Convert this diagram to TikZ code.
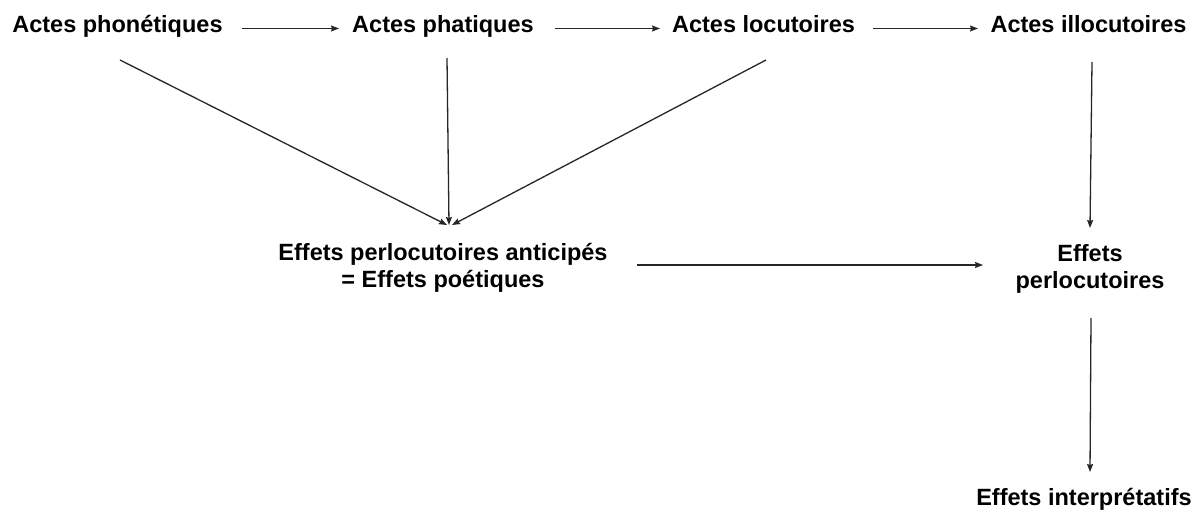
\documentclass[tikz,border=0pt]{standalone}
\usepackage{fontspec}
\setmainfont{Liberation Sans}
\usetikzlibrary{arrows.meta}
\begin{document}
\begin{tikzpicture}[x=1pt,y=-1pt,
  lbl/.style={font=\bfseries\fontsize{23.5}{27}\selectfont, inner sep=0pt, anchor=base, align=center},
  conn/.style={draw=black!85, line width=1.3pt, -{Stealth[length=8pt,width=6pt,inset=1pt]}}]
\useasboundingbox (0,0) rectangle (1194,511);
% nodes (base anchor = baseline of last line)
\node[lbl] (pho) at (117.5,33) {Actes phonétiques};
\node[lbl] (pha) at (443,33) {Actes phatiques};
\node[lbl] (loc) at (763.5,33) {Actes locutoires};
\node[lbl] (ill) at (1088.5,33) {Actes illocutoires};
\node[lbl] (ant) at (443,287) {Effets perlocutoires anticipés\\= Effets poétiques};
\node[lbl] (per) at (1090,288) {Effets\\perlocutoires};
\node[lbl] (int) at (1084,505) {Effets interprétatifs};
% connector end points
\coordinate (phoE) at (242,28.5);
\coordinate (phaW) at (339,28.5);
\coordinate (phaE) at (555,28.5);
\coordinate (locW) at (660,28.5);
\coordinate (locE) at (873,28.5);
\coordinate (illW) at (978,28.5);
\coordinate (phoS) at (120,60);
\coordinate (phaS) at (447,58);
\coordinate (locS) at (766,60);
\coordinate (antN1) at (447,225);
\coordinate (antN2) at (449,225);
\coordinate (antN3) at (452,225);
\coordinate (illS) at (1092,62);
\coordinate (perN) at (1090,228);
\coordinate (antE) at (637,265);
\coordinate (perW) at (983,265);
\coordinate (perS) at (1091,318);
\coordinate (intN) at (1090,472);
% connectors
\draw[conn] (phoE) -- (phaW);
\draw[conn] (phaE) -- (locW);
\draw[conn] (locE) -- (illW);
\draw[conn] (phoS) -- (antN1);
\draw[conn] (phaS) -- (antN2);
\draw[conn] (locS) -- (antN3);
\draw[conn] (illS) -- (perN);
\draw[conn] (antE) -- (perW);
\draw[conn] (perS) -- (intN);
\end{tikzpicture}
\end{document}
